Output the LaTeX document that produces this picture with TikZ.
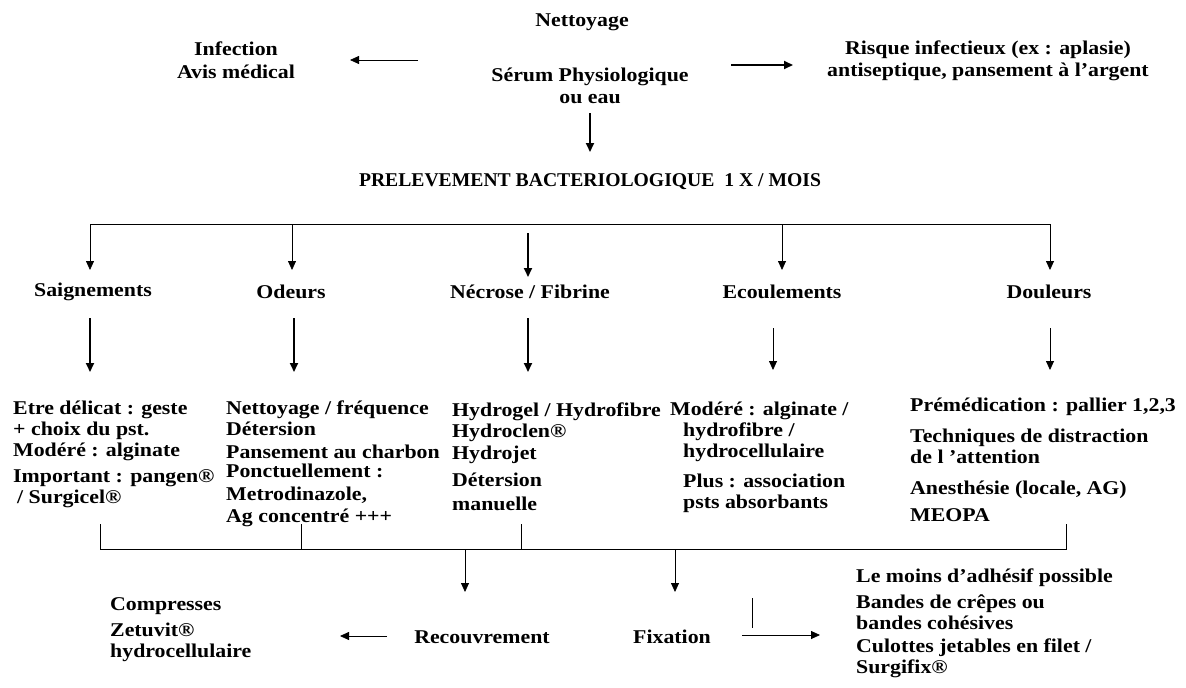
\documentclass[tikz,border=0pt]{standalone}
\usepackage{fontspec}
\usepackage{graphicx}
\setmainfont{Liberation Serif}[FakeStretch=1.12]
\usetikzlibrary{arrows.meta}
\begin{document}
\begin{tikzpicture}[x=1pt,y=-1pt,
  txt/.style={font=\bfseries\fontsize{19.5}{21.5}\selectfont, inner sep=0pt, align=center},
  blk/.style={font=\bfseries\fontsize{19.5}{21}\selectfont, inner sep=0pt, align=left, anchor=north west},
  thinarr/.style={line width=0.8pt, -{Triangle[length=9pt,width=8pt]}},
  thickarr/.style={line width=1.8pt, -{Triangle[length=9pt,width=8pt]}},
  ln/.style={line width=0.8pt}]
\useasboundingbox (0,0) rectangle (1186,688);
% top
\node[txt] (nett) at (582,22) {Nettoyage};
\node[txt] (inf) at (236,60) {Infection\\[2pt]Avis médical};
\node[txt] (serum) at (590,86) {Sérum Physiologique\\ou eau};
\node[txt] (risque) at (988,61) {Risque infectieux (ex : aplasie)\\[1pt]antiseptique, pansement à l’argent};
\node[txt] (prel) at (590,182) {\scalebox{0.9}[1]{PRELEVEMENT BACTERIOLOGIQUE \ 1 X / MOIS}};
\coordinate (la) at (418,60);
\coordinate (lb) at (350,60);
\draw[thinarr] (la) -- (lb);
\coordinate (ra) at (731,65);
\coordinate (rb) at (793,65);
\draw[thickarr] (ra) -- (rb);
\coordinate (da) at (590,113);
\draw[thickarr] (da) -- (prel.north |- 0,152);
% categories
\node[txt] (sai) at (93,292) {Saignements};
\node[txt] (ode) at (291,292) {Odeurs};
\node[txt] (nec) at (530,292) {Nécrose / Fibrine};
\node[txt] (eco) at (782,292) {Ecoulements};
\node[txt] (dou) at (1049,292) {Douleurs};
\coordinate (hl) at (90,224);
\coordinate (hr) at (1050,224);
\draw[ln] (hl) -- (hr);
\draw[thinarr] (hl) -- (90,270);
\draw[thinarr] (292,224) -- (292,270);
\draw[thinarr] (782,224) -- (782,270);
\draw[thinarr] (hr) -- (1050,270);
\draw[thickarr] (528,233) -- (528,277);
% second arrows
\draw[thickarr] (90,318) -- (90,372);
\draw[thickarr] (294,318) -- (294,372);
\draw[thickarr] (528,318) -- (528,372);
\draw[thinarr] (773,328) -- (773,370);
\draw[thinarr] (1050,328) -- (1050,370);
% blocks
\node[blk] (bsai) at (13,401) {Etre délicat : geste\\+ choix du pst.\\Modéré : alginate\\[5pt]Important : pangen®\\\hspace*{4pt}/ Surgicel®};
\node[blk] (bode) at (226,401) {Nettoyage / fréquence\\Détersion\\[2pt]Pansement au charbon\\[-2pt]Ponctuellement :\\[2pt]Metrodinazole,\\[1pt]Ag concentré +++};
\node[blk] (bnec) at (452,403) {Hydrogel / Hydrofibre\\Hydroclen®\\[1pt]Hydrojet\\[6pt]Détersion\\[3pt]manuelle};
\node[blk] (beco) at (670,402) {Modéré : alginate /\\\hspace*{13pt}hydrofibre /\\\hspace*{13pt}hydrocellulaire\\[9pt]\hspace*{13pt}Plus : association\\\hspace*{13pt}psts absorbants};
\node[blk] (bdou) at (910,398) {Prémédication : pallier 1,2,3\\[10pt]Techniques de distraction\\de l ’attention\\[10pt]Anesthésie (locale, AG)\\[6pt]MEOPA};
% bottom bracket
\coordinate (b1) at (100,524);
\coordinate (b2) at (301,524);
\coordinate (b3) at (521,524);
\coordinate (b4) at (1066,524);
\draw[ln] (b1) -- (100,549) -- (1066,549) -- (b4);
\draw[ln] (b2) -- (301,549);
\draw[ln] (b3) -- (521,549);
\node[txt] (rec) at (482,637) {Recouvrement};
\node[txt] (fix) at (672,637) {Fixation};
\draw[thinarr] (465,549) -- (465,592);
\draw[thinarr] (675,549) -- (675,592);
\node[blk] (bcomp) at (110,597) {Compresses\\[5pt]Zetuvit®\\hydrocellulaire};
\coordinate (ca) at (387,636);
\coordinate (cb) at (340,636);
\draw[thinarr] (ca) -- (cb);
\coordinate (fa) at (742,635);
\coordinate (fb) at (820,635);
\draw[thinarr] (fa) -- (fb);
\coordinate (va) at (752,598);
\coordinate (vb) at (752,628);
\draw[ln] (va) -- (vb);
\node[blk] (bfix) at (856,569) {Le moins d’adhésif possible\\[5pt]Bandes de crêpes ou\\bandes cohésives\\[2pt]Culottes jetables en filet /\\Surgifix®};
\end{tikzpicture}
\end{document}
